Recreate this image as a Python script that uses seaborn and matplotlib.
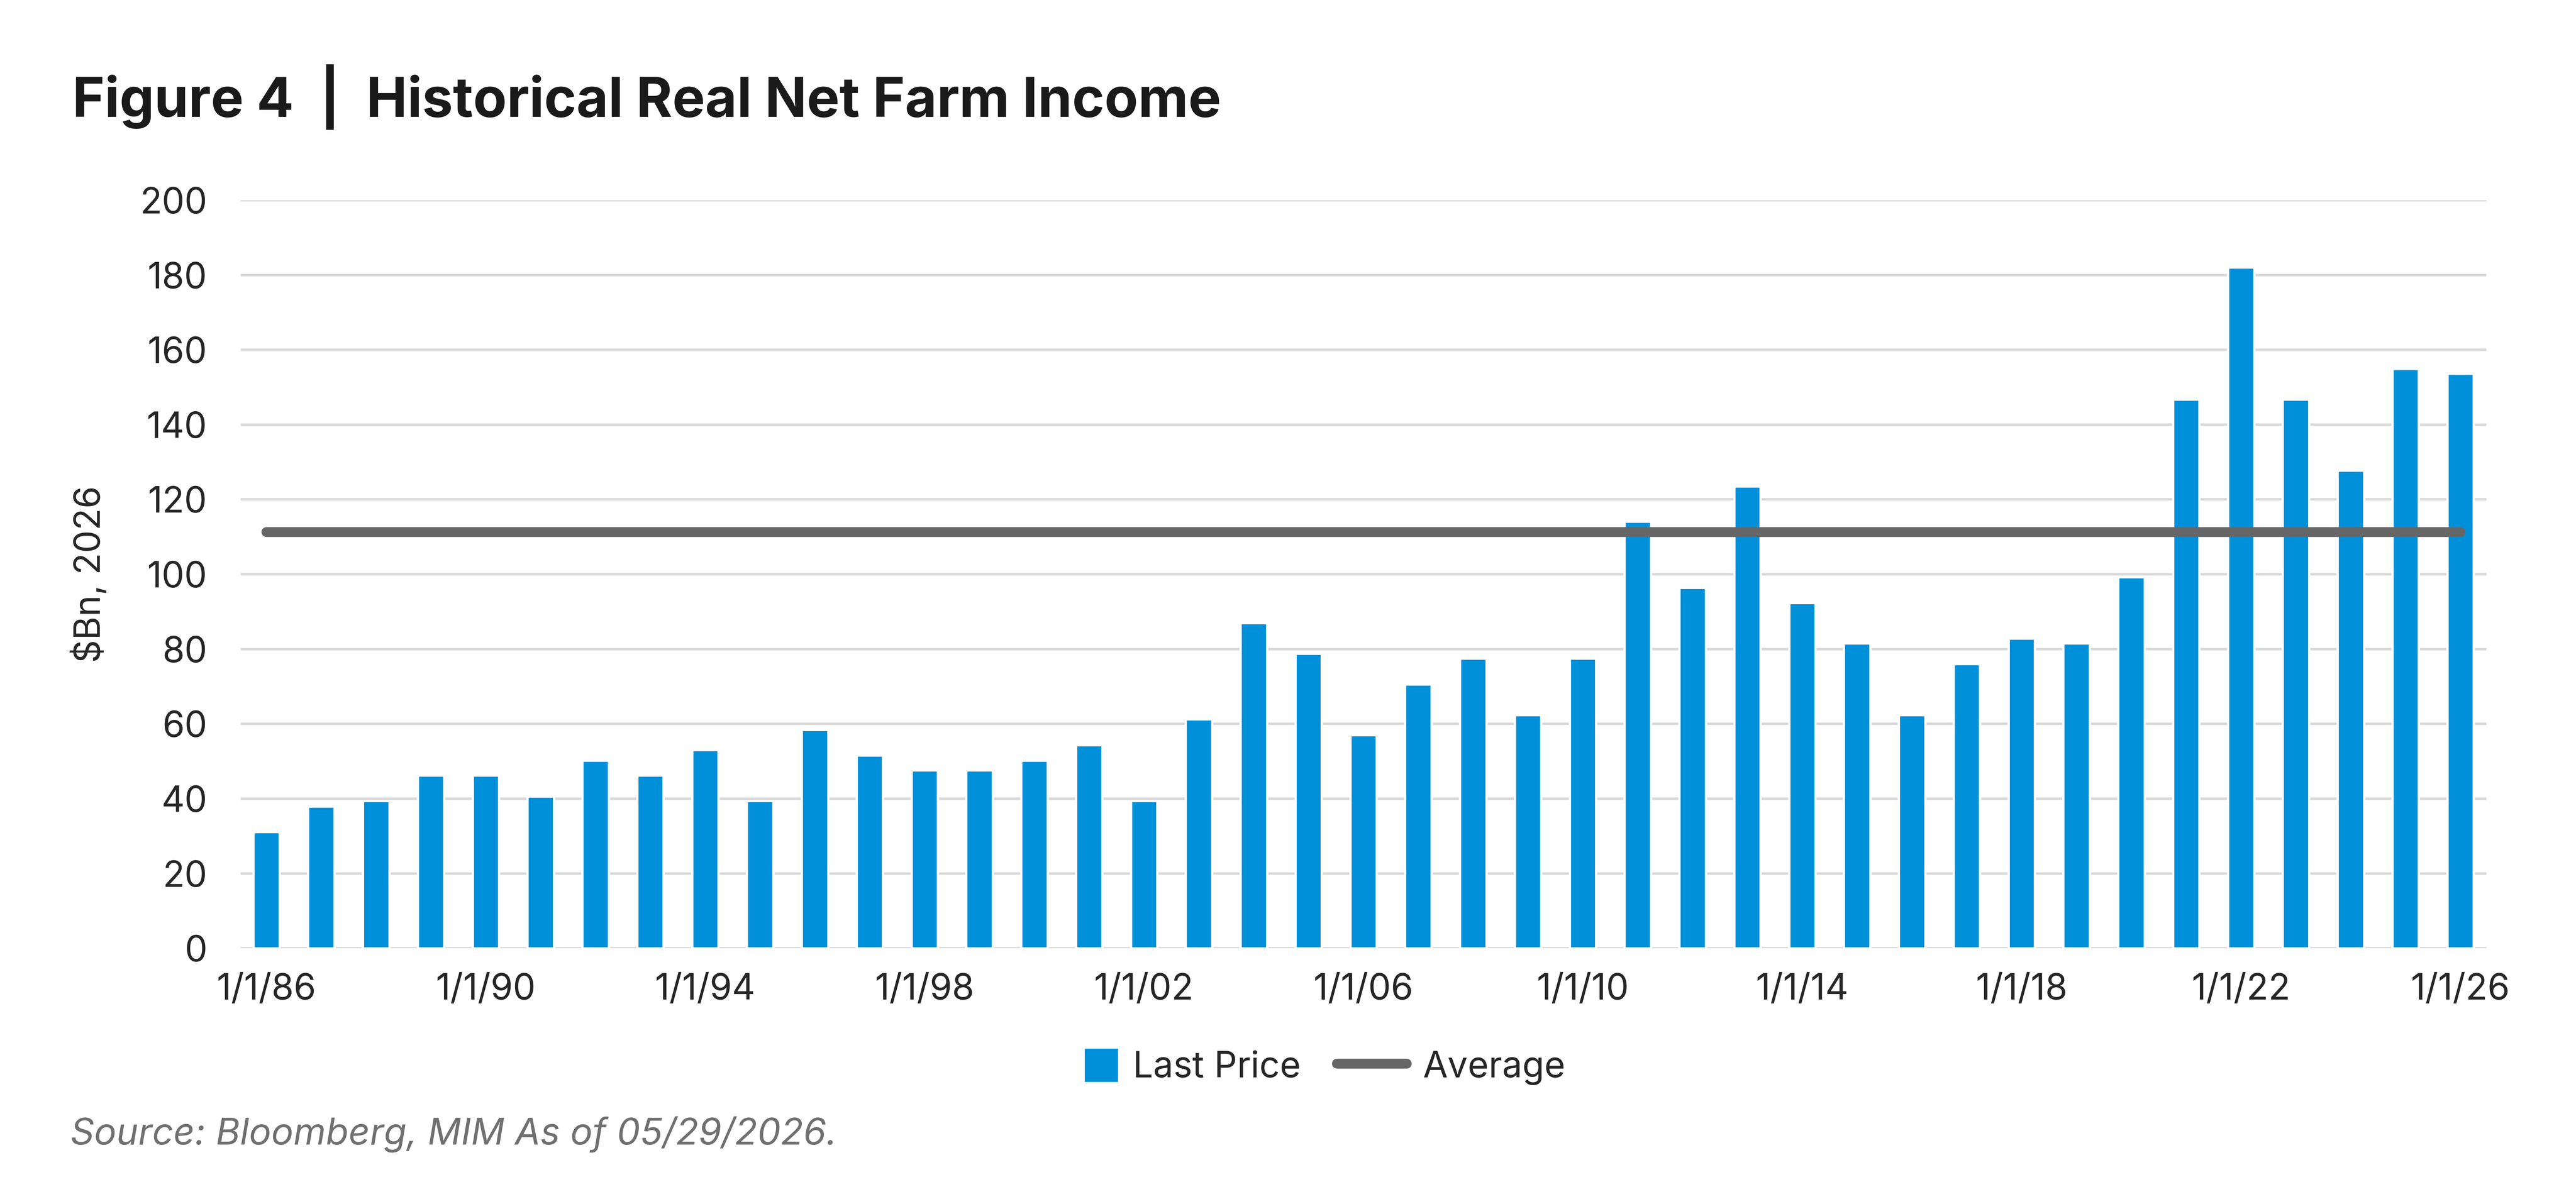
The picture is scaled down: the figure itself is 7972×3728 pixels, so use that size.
import matplotlib
matplotlib.use("Agg")
import matplotlib.pyplot as plt
import seaborn as sns
import pandas as pd
from matplotlib.patches import Rectangle
from matplotlib.lines import Line2D
from matplotlib.legend_handler import HandlerPatch

# values ($Bn, 2026 dollars)
years = list(range(1986, 2027))
last_price = [31.1, 37.9, 39.4, 46.2, 46.2, 40.6, 50.2, 46.2, 53.0, 39.4,
              58.4, 51.6, 47.6, 47.6, 50.2, 54.3, 39.4, 61.2, 87.0, 78.8,
              57.0, 70.6, 77.5, 62.4, 77.5, 114.1, 96.4, 123.5, 92.3, 81.5,
              62.4, 76.0, 82.8, 81.5, 99.2, 146.7, 182.0, 146.7, 127.7, 154.9,
              153.6]
average_value = 111.3
tick_years = list(range(1986, 2027, 4))
tick_labels = [f"1/1/{y % 100:02d}" for y in tick_years]
y_ticks = list(range(0, 201, 20))

bar_color = "#0090D9"
avg_color = "#666666"
grid_color = "#D9D9D9"

df = pd.DataFrame({"date": years, "Last Price": last_price,
                   "Average": [average_value] * len(years)})

sns.set_style("white")
plt.rcParams["font.family"] = ["Inter", "DejaVu Sans"]

fig = plt.figure(figsize=(7972 / 500, 3728 / 500), dpi=500)
ax = fig.add_axes([0.0935, 0.2124, 0.8718, 0.6213])

sns.barplot(data=df, x="date", y="Last Price", native_scale=True, width=0.48,
            color=bar_color, saturation=1, ax=ax, zorder=2)
sns.lineplot(data=df, x="date", y="Average", color=avg_color, lw=4.4,
             solid_capstyle="round", ax=ax, zorder=3)

ax.set_xlim(1985.535, 2026.477)
ax.set_ylim(0, 200)
ax.set_yticks(y_ticks)
ax.set_xticks(tick_years)
ax.set_xticklabels(tick_labels)
ax.tick_params(axis="x", length=0, pad=11, labelsize=16)
ax.tick_params(axis="y", length=0, pad=15, labelsize=16)
ax.yaxis.grid(True, color=grid_color, lw=1.1)
ax.set_axisbelow(True)
for s in ax.spines.values():
    s.set_visible(False)
ax.set_xlabel("")
ax.set_ylabel("")

fig.text(0.0346, 0.523, "\\$Bn, 2026", rotation=90, ha="center", va="center", fontsize=16)
fig.text(0.0281, 0.9029, "Figure 4  |  Historical Real Net Farm Income",
         fontsize=24.5, fontweight="bold", color="#1a1a1a", va="baseline")
fig.text(0.0273, 0.0494, "Source: Bloomberg, MIM As of 05/29/2026.",
         fontsize=16.5, style="italic", color="#707070", va="baseline")


def square_patch(legend, orig_handle, xdescent, ydescent, width, height, fontsize):
    sq = height
    return Rectangle((-xdescent + width - sq, -ydescent), sq, sq)


handles = [Rectangle((0, 0), 1, 1, color=bar_color),
           Line2D([0], [0], color=avg_color, lw=4.4, solid_capstyle="round")]
fig.legend(handles, ["Last Price", "Average"], loc="center",
           bbox_to_anchor=(0.507, 0.1134), ncol=2, frameon=False, fontsize=16,
           handlelength=1.95, handleheight=0.95, handletextpad=0.45, columnspacing=1.0,
           handler_map={Rectangle: HandlerPatch(patch_func=square_patch)})

fig.savefig("out.png", dpi=500)
